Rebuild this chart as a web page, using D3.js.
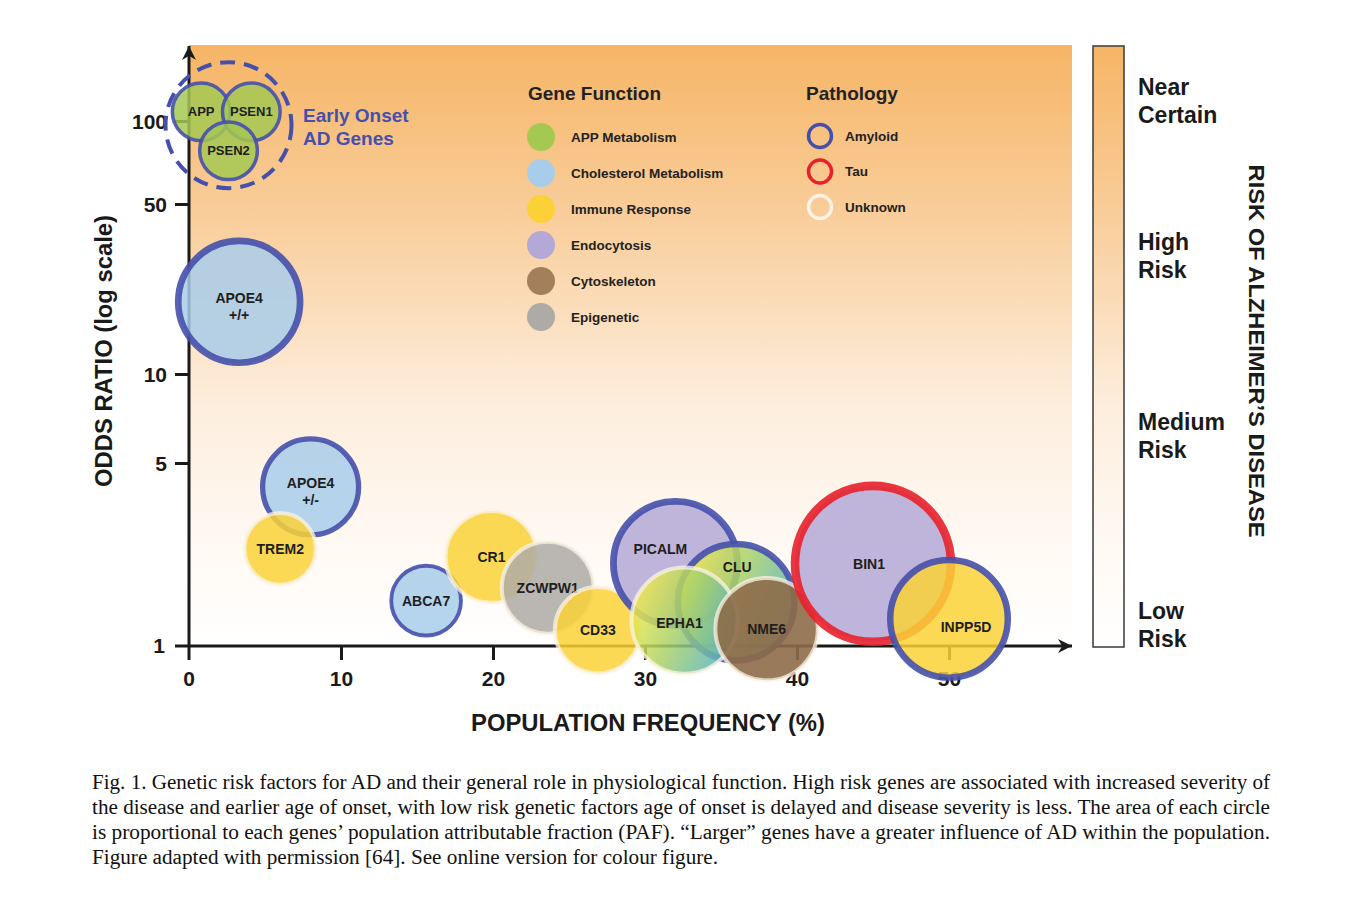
<!DOCTYPE html>
<html>
<head>
<meta charset="utf-8">
<script src="https://cdn.jsdelivr.net/npm/d3@7"></script>
<style>
  body { margin: 0; background: #fff; }
  text { font-family: "Liberation Sans", Arial, Helvetica, sans-serif; }
  .cap { font-family: "Liberation Serif", "Times New Roman", serif; font-size: 20px; fill: #111; }
</style>
</head>
<body>
<svg id="chart" width="1346" height="910"></svg>
<script>
// genes, drawn in this order (back to front)
const genes = ['APP', 'PSEN1', 'PSEN2', 'APOE4\n+/+', 'APOE4\n+/-', 'TREM2', 'ABCA7', 'CR1', 'ZCWPW1',
  'CD33', 'PICALM', 'CLU', 'EPHA1', 'NME6', 'BIN1', 'INPP5D'];
const freq = [0.8, 4.1, 2.6, 3.3, 8.0, 6.0, 15.6, 19.9, 23.6, 26.9, 32.0, 36.0, 32.6, 38.0, 45.0, 50.0];
const oddsRatio = [108, 108, 78, 19.8, 4.05, 2.35, 1.49, 2.19, 1.67, 1.15, 2.07, 1.47, 1.25, 1.16, 2.06, 1.27];
const paf = [13, 13, 13, 58, 36, 20, 19, 33, 33, 29, 60, 53, 44, 41, 95, 54];
const geneFunction = ['app', 'app', 'app', 'chol', 'chol', 'immune', 'chol', 'immune', 'epi',
  'immune', 'endo', 'mixed', 'mixed', 'cyto', 'endo', 'immune'];
const pathology = ['amyloid', 'amyloid', 'amyloid', 'amyloid', 'amyloid', 'unknown', 'amyloid', 'unknown', 'unknown',
  'unknown', 'amyloid', 'amyloid', 'unknown', 'unknown', 'tau', 'amyloid'];

const earlyOnset = { freq: 2.6, odds: 96.6 };

const xTicks = [0, 10, 20, 30, 40, 50];
const yTicks = [1, 5, 10, 50, 100];

const functionKeys = ['app', 'chol', 'immune', 'endo', 'cyto', 'epi'];
const functionNames = ['APP Metabolism', 'Cholesterol Metabolism', 'Immune Response', 'Endocytosis', 'Cytoskeleton', 'Epigenetic'];
const pathologyKeys = ['amyloid', 'tau', 'unknown'];
const pathologyNames = ['Amyloid', 'Tau', 'Unknown'];
const riskLabels = [['Near', 'Certain'], ['High', 'Risk'], ['Medium', 'Risk'], ['Low', 'Risk']];

const caption = [
  'Fig. 1.  Genetic risk factors for AD and their general role in physiological function. High risk genes are associated with increased severity of',
  'the disease and earlier age of onset, with low risk genetic factors age of onset is delayed and disease severity is less. The area of each circle',
  'is proportional to each genes\u2019 population attributable fraction (PAF). \u201cLarger\u201d genes have a greater influence of AD within the population.',
  'Figure adapted with permission [64]. See online version for colour figure.'
];
const captionWidth = [1178, 1178, 1178, 626];

const fillColor = { app: '#a5c852', chol: '#a8cdea', immune: '#fad237', endo: '#b4a8d6', cyto: '#8e6b48', epi: '#aeaaa6', mixed: 'url(#mixGrad)' };
const ringColor = { amyloid: '#4650ab', tau: '#e8202b', unknown: '#fbf3e4' };
const blue = '#4650ab';

// label nudges (px) where the original label sits off-centre
const labelNudge = { PICALM: [-15, -14], CLU: [1, -35], EPHA1: [-5, 2], INPP5D: [17, 8], BIN1: [-4, 0] };

const svg = d3.select('#chart');
const defs = svg.append('defs');

const plotL = 189, plotR = 1072, plotT = 45, plotB = 646;

const x = d3.scaleLinear().domain([0, 50]).range([189, 949]);
const y = d3.scaleLog().domain([1, 5, 10, 50, 100]).range([646, 463, 374, 204, 121]);
const r = d3.scaleSqrt().domain([0, 100]).range([0, 80]);

// risk gradient
const riskGrad = defs.append('linearGradient').attr('id', 'riskGrad')
  .attr('x1', 0).attr('y1', 0).attr('x2', 0).attr('y2', 1);
[[0, '#f6b566'], [0.3, '#f9cf9e'], [0.6, '#fdeedd'], [0.85, '#fffaf5'], [1, '#ffffff']].forEach(([o, c]) =>
  riskGrad.append('stop').attr('offset', o).attr('stop-color', c));

const mixGrad = defs.append('linearGradient').attr('id', 'mixGrad')
  .attr('x1', 0).attr('y1', 0.3).attr('x2', 1).attr('y2', 0.7);
[[0, '#f4ec4a'], [0.45, '#a9d168'], [1, '#4eaecb']].forEach(([o, c]) =>
  mixGrad.append('stop').attr('offset', o).attr('stop-color', c));

const arrow = defs.append('marker').attr('id', 'arrow')
  .attr('viewBox', '0 0 10 10').attr('refX', 10).attr('refY', 5)
  .attr('markerWidth', 16).attr('markerHeight', 14).attr('markerUnits', 'userSpaceOnUse')
  .attr('orient', 'auto');
arrow.append('path').attr('d', 'M0,0 L10,5 L0,10 L3,5 Z').attr('fill', '#1a1a1a');

// plot background
svg.append('rect').attr('x', plotL).attr('y', plotT).attr('width', plotR - plotL).attr('height', plotB - plotT)
  .attr('fill', 'url(#riskGrad)');

// colour bar
svg.append('rect').attr('x', 1093).attr('y', 46).attr('width', 31).attr('height', 601)
  .attr('fill', 'url(#riskGrad)').attr('stroke', '#3a3a3a').attr('stroke-width', 1.5);

const riskY = [87, 242, 422, 611];
riskLabels.forEach((lines, i) => {
  const t = svg.append('text').attr('x', 1138).attr('y', riskY[i]).attr('font-size', 23)
    .attr('font-weight', 'bold').attr('fill', '#1a1a1a');
  lines.forEach((l, j) => t.append('tspan').attr('x', 1138).attr('dy', j ? 28 : 0).attr('dominant-baseline', 'central').text(l));
});

svg.append('text').attr('transform', 'translate(1256,351) rotate(90)')
  .attr('text-anchor', 'middle').attr('dominant-baseline', 'central')
  .attr('font-size', 22).attr('font-weight', 'bold').attr('fill', '#1a1a1a')
  .attr('textLength', 373).attr('lengthAdjust', 'spacingAndGlyphs')
  .text('RISK OF ALZHEIMER\u2019S DISEASE');

// axes
const xAxis = svg.append('g').attr('transform', `translate(0,${plotB})`)
  .call(d3.axisBottom(x).tickValues(xTicks.slice(1)).tickSize(14).tickSizeOuter(0).tickPadding(11));
const yAxis = svg.append('g').attr('transform', `translate(${plotL},0)`)
  .call(d3.axisLeft(y).tickValues(yTicks.slice(1)).tickFormat(d3.format('d')).tickSize(14).tickSizeOuter(0).tickPadding(8));
[xAxis, yAxis].forEach(g => {
  g.select('.domain').remove();
  g.selectAll('line').attr('stroke', '#1a1a1a').attr('stroke-width', 3);
  g.selectAll('text').attr('font-size', 21).attr('font-weight', 'bold').attr('fill', '#1a1a1a')
    .style('font-family', '"Liberation Sans", Arial, sans-serif');
});
yAxis.selectAll('text').attr('dy', '0.35em');
// "1" and "0" labels (tick at origin)
svg.append('text').attr('x', plotL - 24).attr('y', y(yTicks[0])).attr('dy', '0.35em').attr('text-anchor', 'end')
  .attr('font-size', 21).attr('font-weight', 'bold').attr('fill', '#1a1a1a').text(yTicks[0]);
svg.append('text').attr('x', x(xTicks[0])).attr('y', plotB + 25).attr('dy', '0.71em').attr('text-anchor', 'middle')
  .attr('font-size', 21).attr('font-weight', 'bold').attr('fill', '#1a1a1a').text(xTicks[0]);

// axis lines with arrows
svg.append('line').attr('x1', plotL - 14).attr('x2', plotR).attr('y1', plotB).attr('y2', plotB)
  .attr('stroke', '#1a1a1a').attr('stroke-width', 3).attr('marker-end', 'url(#arrow)');
svg.append('line').attr('x1', plotL).attr('x2', plotL).attr('y1', plotB + 14).attr('y2', 46)
  .attr('stroke', '#1a1a1a').attr('stroke-width', 3).attr('marker-end', 'url(#arrow)');

svg.append('text').attr('x', 648).attr('y', 723).attr('text-anchor', 'middle').attr('dominant-baseline', 'central')
  .attr('font-size', 23).attr('font-weight', 'bold').attr('fill', '#1a1a1a')
  .attr('textLength', 354).attr('lengthAdjust', 'spacingAndGlyphs').text('POPULATION FREQUENCY (%)');
svg.append('text').attr('transform', 'translate(104,351) rotate(-90)')
  .attr('text-anchor', 'middle').attr('dominant-baseline', 'central')
  .attr('font-size', 23).attr('font-weight', 'bold').attr('fill', '#1a1a1a')
  .attr('textLength', 272).attr('lengthAdjust', 'spacingAndGlyphs').text('ODDS RATIO (log scale)');

// legend
const lg = svg.append('g');
lg.append('text').attr('x', 528).attr('y', 93).attr('dominant-baseline', 'central').attr('font-size', 19)
  .attr('font-weight', 'bold').attr('fill', '#222').text('Gene Function');
functionKeys.forEach((k, i) => {
  const cy = 137 + i * 36;
  lg.append('circle').attr('cx', 541).attr('cy', cy).attr('r', 14)
    .attr('fill', k === 'cyto' ? '#a47f5b' : fillColor[k]);
  lg.append('text').attr('x', 571).attr('y', cy).attr('dominant-baseline', 'central').attr('font-size', 13.5)
    .attr('font-weight', 'bold').attr('fill', '#222').text(functionNames[i]);
});
lg.append('text').attr('x', 806).attr('y', 93).attr('dominant-baseline', 'central').attr('font-size', 19)
  .attr('font-weight', 'bold').attr('fill', '#222').text('Pathology');
pathologyKeys.forEach((k, i) => {
  const cy = 136 + i * 35.5;
  lg.append('circle').attr('cx', 820).attr('cy', cy).attr('r', 11.5).attr('fill', 'none')
    .attr('stroke', ringColor[k]).attr('stroke-width', 3.5);
  lg.append('text').attr('x', 845).attr('y', cy).attr('dominant-baseline', 'central').attr('font-size', 13.5)
    .attr('font-weight', 'bold').attr('fill', '#222').text(pathologyNames[i]);
});

// bubbles
const data = genes.map((g, i) => ({
  gene: g, freq: freq[i], odds: oddsRatio[i], paf: paf[i], fn: geneFunction[i], path: pathology[i]
}));

const bubbles = svg.append('g').selectAll('g.bubble').data(data).join('g').attr('class', 'bubble');
bubbles.append('circle')
  .attr('cx', d => x(d.freq)).attr('cy', d => y(d.odds)).attr('r', d => r(d.paf))
  .attr('fill', d => fillColor[d.fn]).attr('fill-opacity', d => d.fn === 'cyto' ? 0.9 : 0.85)
  .attr('stroke', d => ringColor[d.path])
  .attr('stroke-opacity', d => d.path === 'unknown' ? 0.75 : 0.9)
  .attr('stroke-width', d => d.path === 'unknown' ? 4 : Math.max(3.5, r(d.paf) * 0.11));

// early onset group outline
svg.append('circle').attr('cx', x(earlyOnset.freq)).attr('cy', y(earlyOnset.odds)).attr('r', 63)
  .attr('fill', 'none').attr('stroke', blue).attr('stroke-width', 4).attr('stroke-dasharray', '15 9');
const eo = svg.append('text').attr('x', 303).attr('y', 115).attr('font-size', 19).attr('font-weight', 'bold').attr('fill', blue);
eo.append('tspan').attr('x', 303).attr('dominant-baseline', 'central').text('Early Onset');
eo.append('tspan').attr('x', 303).attr('dy', 23).attr('dominant-baseline', 'central').text('AD Genes');

bubbles.each(function (d) {
  const nudge = labelNudge[d.gene] || [0, 0];
  const lines = d.gene.split('\n');
  const early = d.gene.startsWith('APP') || d.gene.startsWith('PSEN');
  const fs = early ? 13 : 14;
  const t = d3.select(this).append('text')
    .attr('x', x(d.freq) + nudge[0])
    .attr('y', y(d.odds) + nudge[1] - (lines.length - 1) * 3.5)
    .attr('text-anchor', 'middle').attr('font-size', fs).attr('font-weight', 'bold').attr('fill', '#1e1e1e');
  lines.forEach((l, j) => t.append('tspan').attr('x', x(d.freq) + nudge[0]).attr('dy', j ? 16.5 : 0)
    .attr('dominant-baseline', 'central').text(l));
});

// caption
caption.forEach((line, i) => {
  svg.append('text').attr('class', 'cap').attr('x', 92).attr('y', 789 + i * 25)
    .attr('textLength', captionWidth[i]).attr('lengthAdjust', 'spacingAndGlyphs').text(line);
});
</script>
</body>
</html>
